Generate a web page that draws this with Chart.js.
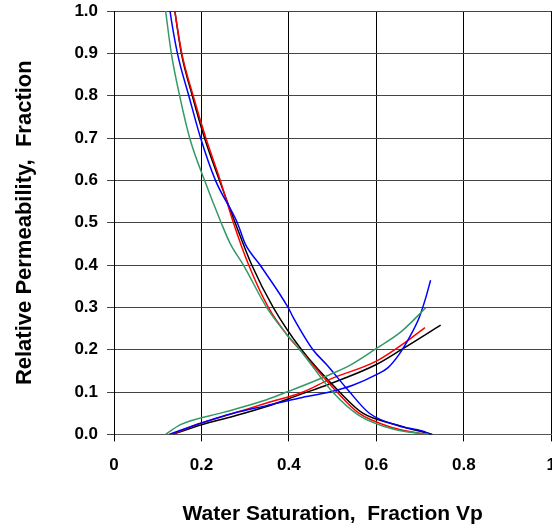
<!DOCTYPE html>
<html>
<head>
<meta charset="utf-8">
<script src="https://cdn.jsdelivr.net/npm/chart.js@4/dist/chart.umd.min.js"></script>
<style>
  html, body { margin: 0; padding: 0; background: #ffffff; overflow: hidden; }
  #wrap { width: 570px; height: 527px; }
</style>
</head>
<body>
<div id="wrap"><canvas id="relperm" width="570" height="527"></canvas></div>
<script>
// x ticks / y ticks
var xTicks = [0, 0.2, 0.4, 0.6, 0.8, 1];
var yTicks = [0, 0.1, 0.2, 0.3, 0.4, 0.5, 0.6, 0.7, 0.8, 0.9, 1.0];

// oil curves (kro)
var oilSwGreen = [0.112, 0.118, 0.131, 0.150, 0.173, 0.207, 0.245, 0.266, 0.296, 0.349, 0.395, 0.425, 0.500, 0.560, 0.640, 0.720];
var oilKrGreen = [1.05, 1.00, 0.90, 0.80, 0.70, 0.60, 0.50, 0.45, 0.40, 0.30, 0.236, 0.20, 0.10, 0.045, 0.012, 0.0];
var oilSwBlue = [0.122, 0.128, 0.145, 0.171, 0.198, 0.232, 0.282, 0.300, 0.334, 0.398, 0.410, 0.455, 0.486, 0.535, 0.584, 0.652, 0.705, 0.724];
var oilKrBlue = [1.05, 1.00, 0.90, 0.80, 0.70, 0.60, 0.50, 0.45, 0.40, 0.30, 0.276, 0.20, 0.165, 0.105, 0.05, 0.02, 0.008, 0.0];
var oilSwRed = [0.132, 0.139, 0.155, 0.181, 0.210, 0.243, 0.273, 0.308, 0.353, 0.395, 0.425, 0.510, 0.560, 0.640, 0.712];
var oilKrRed = [1.05, 1.00, 0.90, 0.80, 0.70, 0.60, 0.50, 0.40, 0.30, 0.236, 0.20, 0.10, 0.05, 0.015, 0.0];
var oilSwBlack = [0.132, 0.139, 0.154, 0.179, 0.207, 0.241, 0.277, 0.315, 0.364, 0.429, 0.516, 0.569, 0.645, 0.728];
var oilKrBlack = [1.05, 1.00, 0.90, 0.80, 0.70, 0.60, 0.50, 0.40, 0.30, 0.20, 0.10, 0.05, 0.023, 0.0];

// water curves (krw)
var watSwGreen = [0.118, 0.152, 0.250, 0.349, 0.395, 0.493, 0.539, 0.600, 0.656, 0.713];
var watKrGreen = [0.0, 0.023, 0.052, 0.082, 0.100, 0.141, 0.163, 0.203, 0.242, 0.299];
var watSwBlue = [0.126, 0.200, 0.273, 0.349, 0.425, 0.493, 0.546, 0.600, 0.626, 0.652, 0.675, 0.698, 0.713, 0.724];
var watKrBlue = [0.0, 0.027, 0.050, 0.068, 0.086, 0.100, 0.116, 0.141, 0.157, 0.189, 0.228, 0.276, 0.323, 0.364];
var watSwRed = [0.131, 0.200, 0.273, 0.349, 0.432, 0.493, 0.600, 0.675, 0.711];
var watKrRed = [0.0, 0.027, 0.050, 0.074, 0.100, 0.130, 0.173, 0.224, 0.252];
var watSwBlack = [0.135, 0.200, 0.273, 0.349, 0.425, 0.493, 0.600, 0.660, 0.747];
var watKrBlack = [0.0, 0.023, 0.043, 0.066, 0.094, 0.119, 0.165, 0.202, 0.258];

function pts(xs, ys) {
    var out = [];
    for (var i = 0; i < xs.length; i++) {
        out.push({x: xs[i], y: ys[i]});
    }
    return out;
}

function curve(xs, ys, color) {
    return {
        data: pts(xs, ys),
        showLine: true,
        borderColor: color,
        backgroundColor: color,
        borderWidth: 1.5,
        pointRadius: 0,
        cubicInterpolationMode: 'monotone',
        fill: false
    };
}

var green = '#339966';
var fontFam = "'Liberation Sans', Arial, sans-serif";

var ctx = document.getElementById('relperm').getContext('2d');
var chart = new Chart(ctx, {
    type: 'scatter',
    data: {
        datasets: [
            curve(oilSwGreen, oilKrGreen, green),
            curve(watSwGreen, watKrGreen, green),
            curve(oilSwBlue, oilKrBlue, '#0000ff'),
            curve(watSwBlue, watKrBlue, '#0000ff'),
            curve(oilSwRed, oilKrRed, '#ff0000'),
            curve(watSwRed, watKrRed, '#ff0000'),
            curve(oilSwBlack, oilKrBlack, '#000000'),
            curve(watSwBlack, watKrBlack, '#000000')
        ]
    },
    options: {
        responsive: false,
        animation: false,
        layout: {
            padding: {top: 11, right: 17, bottom: 0, left: 0}
        },
        plugins: {
            legend: {display: false},
            tooltip: {enabled: false}
        },
        scales: {
            x: {
                type: 'linear',
                min: 0,
                max: 1,
                afterBuildTicks: function (axis) {
                    axis.ticks = xTicks.map(function (v) { return {value: v}; });
                },
                ticks: {
                    color: '#000',
                    padding: 14,
                    maxRotation: 0,
                    font: {family: fontFam, size: 17, weight: 'bold'},
                    callback: function (v) { return v === 0 || v === 1 ? String(v) : v.toFixed(1); }
                },
                grid: {color: '#000', lineWidth: 1, tickLength: 7},
                border: {color: '#555', width: 1},
                title: {
                    display: true,
                    text: 'Water Saturation,  Fraction Vp',
                    color: '#000',
                    font: {family: fontFam, size: 21, weight: 'bold'},
                    padding: {top: 12, bottom: 0}
                }
            },
            y: {
                type: 'linear',
                min: 0,
                max: 1,
                afterBuildTicks: function (axis) {
                    axis.ticks = yTicks.map(function (v) { return {value: v}; });
                },
                afterFit: function (axis) {
                    axis.paddingTop = 0;
                    axis.paddingBottom = 0;
                },
                ticks: {
                    color: '#000',
                    padding: 9,
                    font: {family: fontFam, size: 17, weight: 'bold'},
                    callback: function (v) { return v.toFixed(1); }
                },
                grid: {color: '#444', lineWidth: 1, tickLength: 7},
                border: {color: '#000', width: 1},
                title: {
                    display: true,
                    text: 'Relative Permeability,  Fraction',
                    color: '#000',
                    font: {family: fontFam, size: 22, weight: 'bold'},
                    padding: {top: 12, bottom: 27}
                }
            }
        }
    }
});
</script>
</body>
</html>
